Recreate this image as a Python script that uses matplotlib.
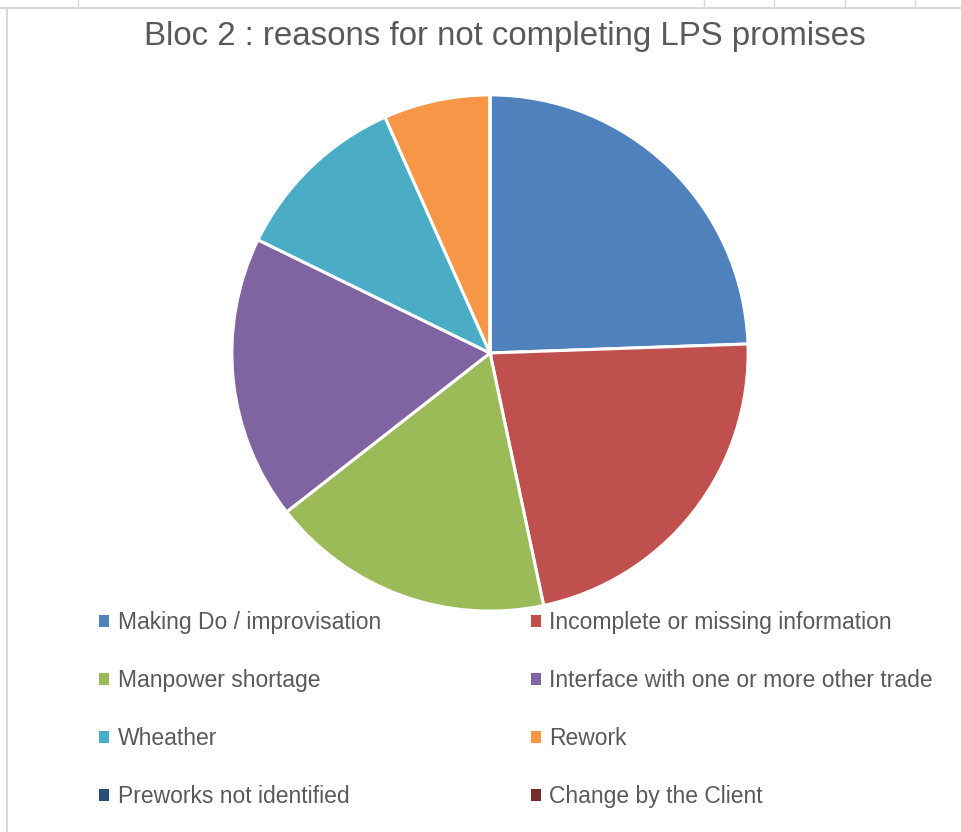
import matplotlib
matplotlib.use("Agg")
import matplotlib.pyplot as plt
from matplotlib.lines import Line2D

plt.rcParams['font.family'] = ['Liberation Sans', 'DejaVu Sans']

categories = ["Making Do / improvisation", "Incomplete or missing information",
              "Manpower shortage", "Interface with one or more other trade",
              "Wheather", "Rework", "Preworks not identified", "Change by the Client"]
values = [11, 10, 8, 8, 5, 3, 0, 0]
colors = ["#4F81BD", "#C0504D", "#9BBB59", "#8064A2", "#4BACC6", "#F79646",
          "#2C4D75", "#772C2A"]
title = "Bloc 2 : reasons for not completing LPS promises"

W, H = 962, 832
fig = plt.figure(figsize=(W / 100, H / 100), dpi=100)
fig.patch.set_facecolor("white")

# spreadsheet background lines
grid = "#D9D9D9"
fig.add_artist(Line2D([0, 1], [1 - 8 / H, 1 - 8 / H], color=grid, lw=1.5, transform=fig.transFigure))
fig.add_artist(Line2D([7 / W, 7 / W], [0, 1 - 8 / H], color=grid, lw=1.5, transform=fig.transFigure))
for x in [78, 704, 774, 845, 915]:
    fig.add_artist(Line2D([x / W, x / W], [1 - 8 / H, 1], color=grid, lw=1, transform=fig.transFigure))

cx, cy, half = 490, 353, 262
ax = fig.add_axes([(cx - half) / W, (H - cy - half) / H, 2 * half / W, 2 * half / H])
wedges, _ = ax.pie(values, colors=colors, startangle=90, counterclock=False,
                   radius=1.0, wedgeprops=dict(edgecolor="white", linewidth=2.2))
ax.set_xlim(-1.015, 1.015)
ax.set_ylim(-1.015, 1.015)
ax.set_aspect("equal")
ax.axis("off")

fig.text(505 / W, 1 - 36 / H, title, ha="center", va="center",
         fontsize=23.8, color="#595959")

order = [0, 2, 4, 6, 1, 3, 5, 7]
leg = fig.legend([wedges[i] for i in order], [categories[i] for i in order],
                 ncol=2, loc="upper left", bbox_to_anchor=(99 / W, 1 - 611 / H),
                 frameon=False, fontsize=16.5, labelcolor="#595959",
                 handlelength=0.45, handleheight=0.45, handletextpad=0.36,
                 labelspacing=1.53, columnspacing=6.54, borderpad=0, borderaxespad=0)
for h in leg.legend_handles:
    h.set_edgecolor("none")

fig.savefig("out.png", dpi=100)
